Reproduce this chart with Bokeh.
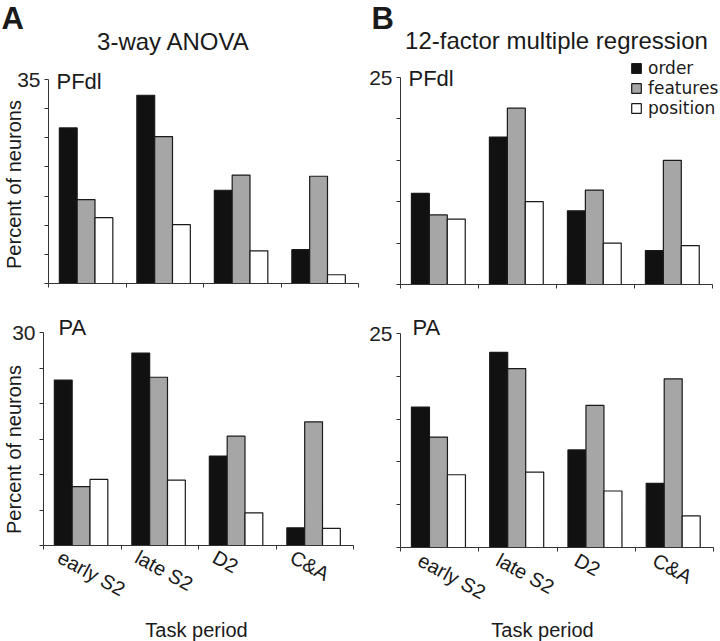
import numpy as np
from bokeh.plotting import figure
from bokeh.models import Range1d, FixedTicker, Label, Legend, LegendItem
from bokeh.layouts import row, column
from bokeh.embed import file_html
from bokeh.resources import INLINE

# ---------------- data ----------------
categories = ["early S2", "late S2", "D2", "C&A"]
series_names = ["order", "features", "position"]

# A: 3-way ANOVA, PFdl
anova_pfdl_order = [26.7, 32.3, 16.0, 5.8]
anova_pfdl_features = [14.4, 25.2, 18.6, 18.4]
anova_pfdl_position = [11.3, 10.1, 5.6, 1.5]
anova_pfdl_ymax = 35

# A: 3-way ANOVA, PA
anova_pa_order = [23.3, 27.1, 12.6, 2.5]
anova_pa_features = [8.3, 23.7, 15.4, 17.4]
anova_pa_position = [9.3, 9.2, 4.6, 2.4]
anova_pa_ymax = 30

# B: 12-factor multiple regression, PFdl
regr_pfdl_order = [11.0, 17.8, 8.9, 4.1]
regr_pfdl_features = [8.4, 21.3, 11.4, 15.0]
regr_pfdl_position = [7.9, 10.0, 5.0, 4.7]
regr_pfdl_ymax = 25

# B: 12-factor multiple regression, PA
regr_pa_order = [16.4, 22.8, 11.4, 7.5]
regr_pa_features = [12.9, 20.9, 16.6, 19.7]
regr_pa_position = [8.5, 8.8, 6.6, 3.7]
regr_pa_ymax = 25

y_tick_step = 5

# ---------------- style ----------------
FONT = "Liberation Sans"
COLORS = ["#111111", "#a6a6a6", "#ffffff"]
OFFSETS = [-0.23, 0.0, 0.23]
BAR_W = 0.23
GROUP_CENTER = 0.485
AXIS_COLOR = "#333333"
TEXT_COLOR = "#1a1a1a"


def make_panel(order, features, position, ymax, W, H, box):
    """box = (left px, right px, top px, bottom px) of the data area inside the canvas."""
    n = len(categories)
    x0, x1, yt, yb = box
    xs = (x1 - x0) / n
    ys = (yb - yt) / ymax
    xr = Range1d(-x0 / xs, n + (W - x1) / xs)
    yr = Range1d(-(H - yb) / ys, ymax + yt / ys)
    p = figure(width=W, height=H, title=None, x_range=xr, y_range=yr,
               output_backend="svg", toolbar_location=None,
               min_border_left=0, min_border_right=0,
               min_border_top=0, min_border_bottom=0)
    p.outline_line_color = None
    p.grid.visible = False
    p.background_fill_color = "white"
    p.border_fill_color = "white"
    idx = np.arange(n)
    rs = []
    for vals, col, off in zip([order, features, position], COLORS, OFFSETS):
        r = p.vbar(x=idx + GROUP_CENTER + off, top=vals, bottom=0, width=BAR_W,
                   fill_color=col, line_color="#1a1a1a", line_width=1.2)
        rs.append(r)
    # x axis: ticks at category boundaries only
    xa = p.xaxis[0]
    xa.fixed_location = 0
    xa.bounds = (0, n)
    xa.ticker = FixedTicker(ticks=[], minor_ticks=list(range(n + 1)))
    xa.minor_tick_out = 4
    xa.minor_tick_in = 0
    xa.major_tick_out = 0
    xa.major_tick_in = 0
    xa.axis_line_color = AXIS_COLOR
    xa.minor_tick_line_color = AXIS_COLOR
    # y axis: only top value labeled
    ya = p.yaxis[0]
    ya.fixed_location = 0
    ya.bounds = (0, ymax)
    ya.ticker = FixedTicker(ticks=[ymax], minor_ticks=list(range(0, ymax, y_tick_step)))
    ya.major_tick_out = 4
    ya.major_tick_in = 0
    ya.minor_tick_out = 4
    ya.minor_tick_in = 0
    ya.major_label_standoff = 4
    ya.axis_line_color = AXIS_COLOR
    ya.major_tick_line_color = AXIS_COLOR
    ya.minor_tick_line_color = AXIS_COLOR
    ya.major_label_text_font = FONT
    ya.major_label_text_font_size = "21px"
    ya.major_label_text_color = "#222222"
    return p, rs


def lab(p, text, x, y, size, align="left", angle=0.0, bold=False):
    p.add_layout(Label(x=x, y=y, x_units="screen", y_units="screen", text=text,
                       text_font=FONT, text_font_size=size, text_color=TEXT_COLOR,
                       text_align=align, text_baseline="middle", angle=angle,
                       text_font_style="bold" if bold else "normal"))


def cat_labels(p, sy, dx):
    # left-anchored rotated labels, starting a little left of each category centre
    for i, c in enumerate(categories):
        p.add_layout(Label(x=i + 0.5, y=sy, x_units="data", y_units="screen",
                           x_offset=dx, text=c, text_font=FONT, text_font_size="20px",
                           text_color=TEXT_COLOR, text_align="left",
                           text_baseline="middle", angle=-0.5))


# ---------------- panels ----------------
LW, RW = 366, 354
TH, BH = 305, 336

a_top, _ = make_panel(anova_pfdl_order, anova_pfdl_features, anova_pfdl_position,
                      anova_pfdl_ymax, LW, TH, (48, 358, 79, 283))
a_bot, _ = make_panel(anova_pa_order, anova_pa_features, anova_pa_position,
                      anova_pa_ymax, LW, BH, (43, 353, 27, 240))
b_top, b_rs = make_panel(regr_pfdl_order, regr_pfdl_features, regr_pfdl_position,
                         regr_pfdl_ymax, RW, TH, (34, 346, 77, 284))
b_bot, _ = make_panel(regr_pa_order, regr_pa_features, regr_pa_position,
                      regr_pa_ymax, RW, BH, (34, 347, 28, 242))

# A top
lab(a_top, "A", 1, 287, "31px", bold=True)
lab(a_top, "3-way ANOVA", 173, 264, "24px", align="center")
lab(a_top, "PFdl", 56, 224, "22px")
lab(a_top, "Percent of neurons", 13, 121, "20px", align="center", angle=np.pi / 2)

# B top
lab(b_top, "B", 5, 287, "31px", bold=True)
lab(b_top, "12-factor multiple regression", 190, 265, "24px", align="center")
lab(b_top, "PFdl", 42, 227, "22px")
legend = Legend(items=[LegendItem(label=s, renderers=[r]) for s, r in zip(series_names, b_rs)],
                location=(264, 187), glyph_width=12, glyph_height=12, label_standoff=6,
                label_height=18, spacing=0, padding=0, margin=0, border_line_color=None,
                background_fill_alpha=0, label_text_font="DejaVu Sans",
                label_text_font_size="17px", label_text_color=TEXT_COLOR)
b_top.add_layout(legend)

# A bottom
lab(a_bot, "PA", 58, 314, "22px")
lab(a_bot, "Percent of neurons", 13, 192, "20px", align="center", angle=np.pi / 2)
cat_labels(a_bot, 86, -23)
lab(a_bot, "Task period", 196, 12, "20px", align="center")

# B bottom
lab(b_bot, "PA", 46, 314, "22px")
cat_labels(b_bot, 83, -20)
lab(b_bot, "Task period", 176, 12, "20px", align="center")

layout = column(row(a_top, b_top), row(a_bot, b_bot))

open("out.html", "w").write(file_html(layout, INLINE))
